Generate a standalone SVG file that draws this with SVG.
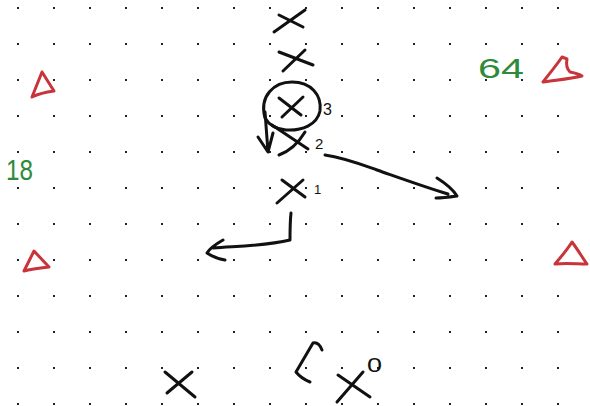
<svg xmlns="http://www.w3.org/2000/svg" width="590" height="406" viewBox="0 0 590 406">
<style>
.ink{fill:none;stroke:#111;stroke-width:3;stroke-linecap:round;stroke-linejoin:round}
.red{fill:none;stroke:#c8343a;stroke-width:3;stroke-linecap:round;stroke-linejoin:round}
.lbl{font-family:"Liberation Sans","DejaVu Sans",sans-serif;fill:#111}
.num{font-family:"Liberation Sans","DejaVu Sans",sans-serif;fill:#2f8a3a}
</style>
<defs>
<pattern id="dots" x="0" y="0" width="36" height="36" patternUnits="userSpaceOnUse">
<rect x="17" y="7" width="2" height="2" fill="#222"/>
</pattern>
</defs>
<rect width="590" height="406" fill="#fff"/>
<rect width="590" height="406" fill="url(#dots)"/>

<g id="x-top"><path class="ink" d="M274,32 L305,10 M279,15 L303,27"/></g>
<g id="x-second"><path class="ink" d="M283,71 L305,50 M279,52 L313,65"/></g>
<g id="x3">
<path class="ink" d="M265,118 C259,96 274,82 292,82 C311,82 322,95 320,111 C317,125 302,131 286,130 C276,129 269,125 265,118"/>
<path class="ink" d="M279,98 L301,115 M282,117 L303,97"/>
<text class="lbl" x="323" y="115" font-size="16">3</text>
</g>
<g id="x2">
<path class="ink" d="M272,125 L308,149 M279,155 C290,151 299,142 305,132"/>
<text class="lbl" x="315" y="149" font-size="15">2</text>
</g>
<g id="x1">
<path class="ink" d="M277,203 L303,180 M282,180 L305,197"/>
<text class="lbl" x="314" y="194" font-size="13">1</text>
</g>
<g id="x-bottom-left"><path class="ink" d="M165,372 L195,397 M167,393 L192,372"/></g>
<g id="x0">
<path class="ink" d="M337,402 L363,372 M338,375 L370,397"/>
<text class="lbl" x="367" y="372" font-size="20" textLength="15" lengthAdjust="spacingAndGlyphs">0</text>
</g>
<g id="bracket"><path class="ink" d="M322,350 C320,345 317,342 313,343 L296,372 C300,377 305,380 310,382"/></g>

<g id="tri-left-top"><path class="red" d="M42,72 L54,91 C46,92 38,94 32,97 Z"/></g>
<g id="tri-left-bottom"><path class="red" d="M34,251 L49,267 C40,268 31,269 24,271 Z"/></g>
<g id="tri-right-top"><path class="red" d="M543,82 C549,74 556,66 562,57 L567,59 C566,64 567,69 570,72 C575,73 579,74 582,76 C570,79 556,80 543,82 Z"/></g>
<g id="tri-right-bottom"><path class="red" d="M572,242 C578,250 582,257 587,264 C577,264 566,263 555,264 C561,257 567,250 572,242 Z"/></g>

<g id="label-18"><text class="num" x="6" y="180" font-size="30" textLength="27" lengthAdjust="spacingAndGlyphs">18</text></g>
<g id="label-64"><text class="num" x="478" y="78" font-size="28" textLength="46" lengthAdjust="spacingAndGlyphs">64</text></g>

<g id="connectors">
<path class="ink" d="M265,112 L268,152 M258,137 L268,152 L273,133"/>
<path class="ink" d="M325,155 C345,158 360,164 377,170 C400,178 425,187 448,194 M437,178 C445,183 452,188 457,196 C450,197 443,198 436,198"/>
<path class="ink" d="M291,213 C290,222 290,232 290,240 C265,246 240,246 213,248 M223,240 C216,244 210,248 207,253 C213,257 219,259 225,260"/>
</g>
</svg>
